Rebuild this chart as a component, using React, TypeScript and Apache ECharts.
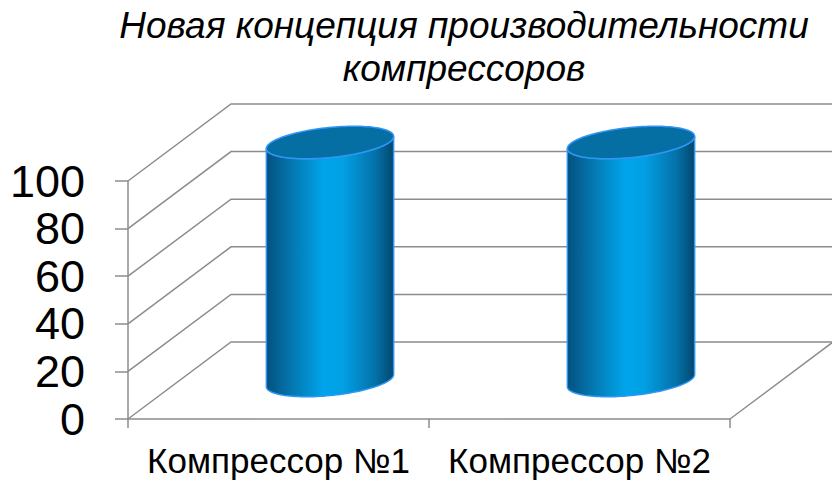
import React, { useEffect, useRef } from "react";
import * as echarts from "echarts";

const categories = ["Компрессор №1", "Компрессор №2"];
const values = [100, 100];
const yTicks = [0, 20, 40, 60, 80, 100];
const titleLines = ["Новая концепция производительности", "компрессоров"];

const DX = 103;
const DY = -77;
const FONT = "'Liberation Sans', Arial, sans-serif";
const GRID_COLOR = "#8c8c8c";

export default function App() {
  const ref = useRef<HTMLDivElement>(null);
  useEffect(() => {
    document.body.style.margin = "0";
    const chart = echarts.init(ref.current!, null, { renderer: "svg" });

    const gridRender = (params: any, api: any) => {
      const v = api.value(1);
      const cs = params.coordSys;
      const y = api.coord([0, v])[1];
      const x0 = cs.x;
      const w = cs.width;
      const children: any[] = [
        {
          type: "polyline",
          shape: { points: [[x0, y], [x0 + DX, y + DY], [x0 + w + DX, y + DY]] },
          style: { stroke: GRID_COLOR, lineWidth: 1.5, fill: null },
        },
      ];
      if (v === 0) {
        children.push({
          type: "line",
          shape: { x1: x0 + w, y1: y, x2: x0 + w + DX, y2: y + DY },
          style: { stroke: GRID_COLOR, lineWidth: 1.5 },
        });
      }
      return { type: "group", children };
    };

    const cylRender = (params: any, api: any) => {
      const i = api.value(0);
      const v = api.value(1);
      const base = api.coord([i, 0]);
      const top = api.coord([i, v]);
      const bw = api.size([1, 0])[0] * 0.425;
      const rx = bw / 2;
      const ry = 15;
      const th = (-5.8 * Math.PI) / 180;
      const cx = base[0] + DX / 2;
      const yb = base[1] + DY / 2;
      const yt = top[1] + DY / 2;
      const pt = (cy: number, t: number) => [
        cx + rx * Math.cos(t) * Math.cos(th) - ry * Math.sin(t) * Math.sin(th),
        cy + rx * Math.cos(t) * Math.sin(th) + ry * Math.sin(t) * Math.cos(th),
      ];
      const t0 = Math.atan((-ry * Math.tan(th)) / rx);
      const N = 60;
      const body: number[][] = [];
      body.push(pt(yt, t0 + Math.PI));
      for (let k = 0; k <= N; k++) {
        const t = t0 + Math.PI - (Math.PI * k) / N;
        body.push(pt(yb, t));
      }
      for (let k = 0; k <= N; k++) {
        const t = t0 + (Math.PI * k) / N;
        body.push(pt(yt, t));
      }
      const cap: number[][] = [];
      for (let k = 0; k < 120; k++) {
        cap.push(pt(yt, (2 * Math.PI * k) / 120));
      }
      return {
        type: "group",
        children: [
          {
            type: "polygon",
            shape: { points: body },
            style: {
              fill: new echarts.graphic.LinearGradient(0, 0, 1, 0, [
                { offset: 0, color: "#03507e" },
                { offset: 0.18, color: "#0474ab" },
                { offset: 0.45, color: "#00a4ea" },
                { offset: 0.6, color: "#02a0e4" },
                { offset: 0.85, color: "#0473ab" },
                { offset: 1, color: "#03476d" },
              ]),
              stroke: "#2f96f5",
              lineWidth: 1.5,
            },
          },
          {
            type: "polygon",
            shape: { points: cap },
            style: { fill: "#056fa3", stroke: "#2f96f5", lineWidth: 1.5 },
          },
        ],
      };
    };

    const option: any = {
      animation: false,
      backgroundColor: "#ffffff",
      textStyle: { fontFamily: FONT },
      graphic: [
        {
          type: "text",
          x: 464,
          y: 4,
          style: {
            text: titleLines.join("\n"),
            fontSize: 37,
            fontStyle: "italic",
            fontFamily: FONT,
            fill: "#000000",
            textAlign: "center",
            lineHeight: 43,
          },
        },
      ],
      grid: { left: 128, right: 102, top: 181, bottom: 63 },
      xAxis: {
        type: "category",
        data: categories,
        axisLine: { lineStyle: { color: GRID_COLOR, width: 1.5 } },
        axisTick: { show: true, length: 9, lineStyle: { color: GRID_COLOR, width: 1.5 } },
        axisLabel: { fontSize: 35, color: "#000000", margin: 24, interval: 0, fontFamily: FONT },
        splitLine: { show: false },
      },
      yAxis: {
        type: "value",
        min: 0,
        max: 100,
        interval: 20,
        axisLine: { show: true, lineStyle: { color: GRID_COLOR, width: 1.5 } },
        axisTick: { show: true, length: 13, lineStyle: { color: GRID_COLOR, width: 1.5 } },
        axisLabel: { fontSize: 45, color: "#000000", margin: 43, fontFamily: FONT },
        splitLine: { show: false },
      },
      series: [
        {
          type: "custom",
          renderItem: gridRender,
          data: yTicks.map((v) => [0, v]),
          z: 1,
          silent: true,
        },
        {
          type: "custom",
          renderItem: cylRender,
          data: values.map((v, i) => [i, v]),
          z: 5,
        },
      ],
    };
    chart.setOption(option);
    return () => chart.dispose();
  }, []);
  return (
    <div
      ref={ref}
      style={{ width: 832, height: 482, position: "absolute", left: 0, top: 0 }}
    />
  );
}
